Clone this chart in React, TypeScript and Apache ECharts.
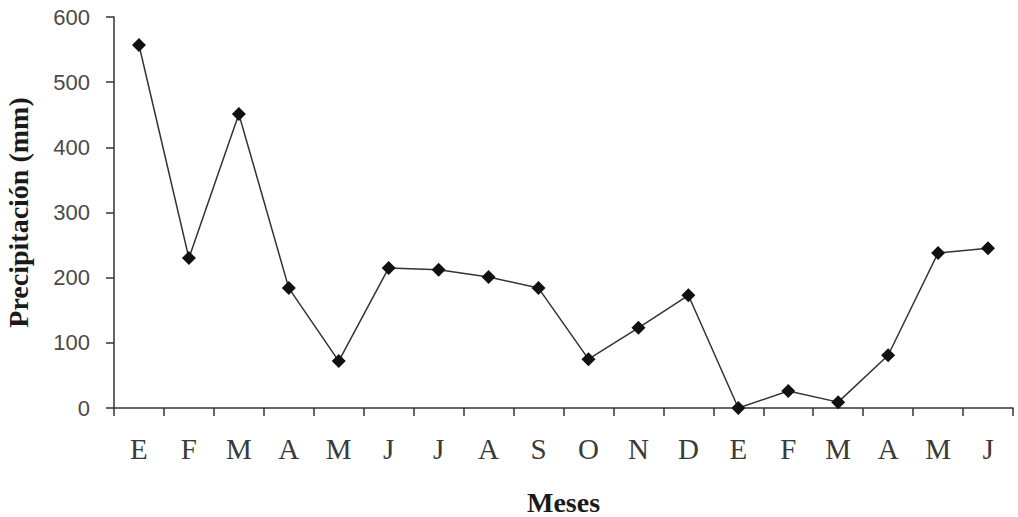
import React, { useEffect, useRef } from "react";
import * as echarts from "echarts";

const categories = ["E", "F", "M", "A", "M", "J", "J", "A", "S", "O", "N", "D", "E", "F", "M", "A", "M", "J"];
const precipitation = [557, 230, 451, 184, 72, 215, 212, 201, 184, 75, 123, 173, 0, 26, 9, 81, 238, 245];
const yTicks = [0, 100, 200, 300, 400, 500, 600];

export default function App() {
  const ref = useRef<HTMLDivElement>(null);
  useEffect(() => {
    if (!ref.current) return;
    const chart = echarts.init(ref.current, undefined, { renderer: "svg" });
    chart.setOption({
      animation: false,
      backgroundColor: "#ffffff",
      grid: { left: 114, top: 17, right: 5, bottom: 109, containLabel: false, outerBoundsMode: "none" },
      xAxis: {
        type: "category",
        data: categories,
        boundaryGap: true,
        name: "Meses",
        nameLocation: "middle",
        nameGap: 80,
        nameTextStyle: { fontFamily: "Liberation Serif", fontWeight: "bold", fontSize: 28, lineHeight: 28, color: "#1a1a1a" },
        axisLine: { lineStyle: { color: "#333", width: 1.5 } },
        axisTick: { show: true, inside: false, length: 8, alignWithLabel: false, lineStyle: { color: "#333", width: 1.5 } },
        axisLabel: { fontFamily: "Liberation Serif", fontSize: 29, color: "#3a3a3a", margin: 26 },
        splitLine: { show: false },
      },
      yAxis: {
        type: "value",
        min: yTicks[0],
        max: yTicks[yTicks.length - 1],
        interval: 100,
        name: "Precipitación (mm)",
        nameLocation: "middle",
        nameGap: 82,
        nameRotate: 90,
        nameTextStyle: { fontFamily: "Liberation Serif", fontWeight: "bold", fontSize: 28, lineHeight: 28, color: "#1a1a1a" },
        axisLine: { show: true, lineStyle: { color: "#333", width: 1.5 } },
        axisTick: { show: true, inside: false, length: 8, lineStyle: { color: "#333", width: 1.5 } },
        axisLabel: { fontFamily: "Liberation Sans", fontSize: 22, color: "#4a4a4a", margin: 24 },
        splitLine: { show: false },
      },
      series: [
        {
          type: "line",
          data: precipitation,
          symbol: "diamond",
          symbolSize: 14,
          itemStyle: { color: "#111" },
          lineStyle: { color: "#333", width: 1.5 },
        },
      ],
    });
    return () => chart.dispose();
  }, []);
  return <div ref={ref} style={{ width: 1018, height: 517, position: "absolute", left: 0, top: 0 }} />;
}
